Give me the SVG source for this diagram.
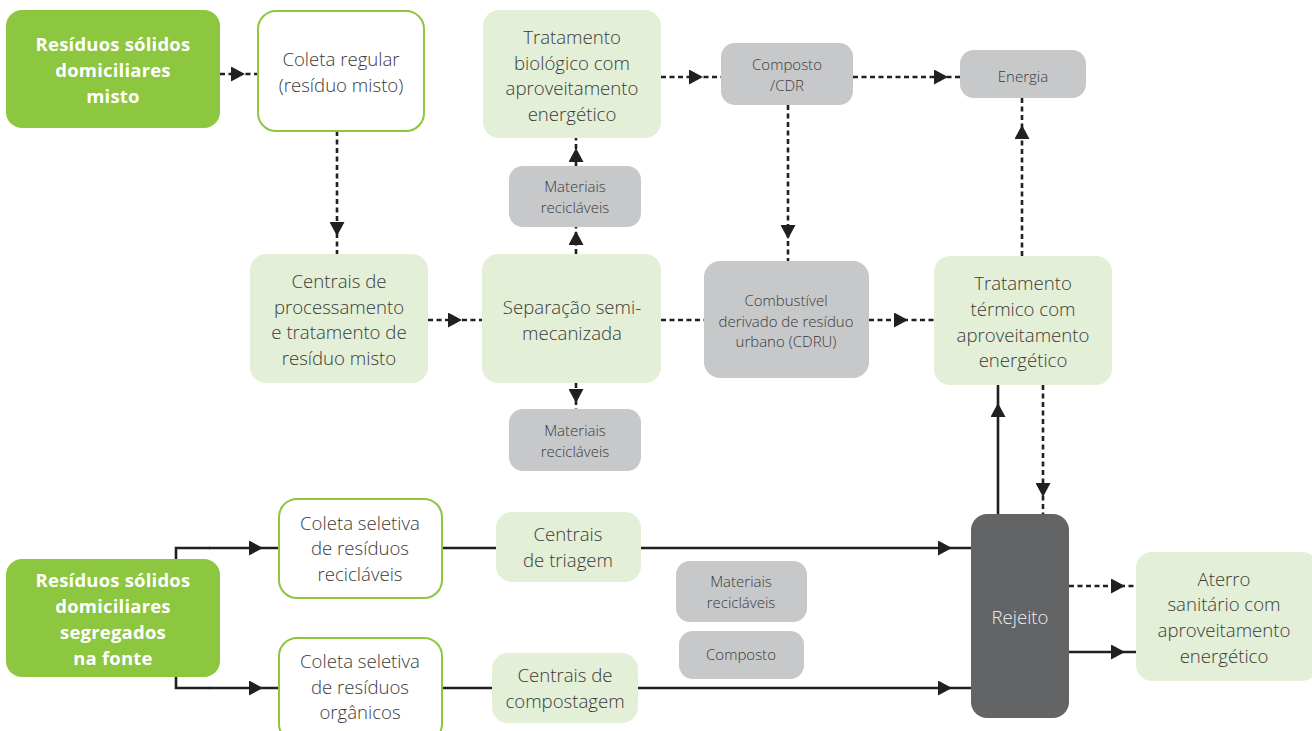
<svg xmlns="http://www.w3.org/2000/svg" width="1312" height="731" viewBox="0 0 1312 731">
<style>
.dk{fill:#8dc63f}
.wh{fill:#ffffff;stroke:#8dc63f;stroke-width:2}
.lg{fill:#e3efd6}
.gr{fill:#c7c8ca}
.dg{fill:#636466}
.tb{font-family:"Open Sans","Liberation Sans",sans-serif;font-weight:700;font-size:18.5px;letter-spacing:0.2px;fill:#ffffff;text-anchor:middle}
.t{font-family:"Open Sans","Liberation Sans",sans-serif;font-weight:300;font-size:18.6px;fill:#3a3a3a;text-anchor:middle}
.ts{font-family:"Open Sans","Liberation Sans",sans-serif;font-weight:300;font-size:15px;fill:#3a3a3a;text-anchor:middle}
.tw{font-family:"Open Sans","Liberation Sans",sans-serif;font-weight:300;font-size:18.6px;fill:#eeeeee;text-anchor:middle}
.d{fill:none;stroke:#231f20;stroke-width:2.6;stroke-dasharray:5 3.5;marker-mid:url(#ah)}
.s{fill:none;stroke:#231f20;stroke-width:2.6;marker-mid:url(#ah)}
.sn{fill:none;stroke:#231f20;stroke-width:2.6}
.dn{fill:none;stroke:#231f20;stroke-width:2.6;stroke-dasharray:5 3.5}
</style>
<defs>
<marker id="ah" markerUnits="userSpaceOnUse" viewBox="0 0 14 15" refX="14" refY="7.5" markerWidth="14" markerHeight="15" orient="auto">
<path d="M0,0 L14,7.5 L0,15 z" fill="#231f20"/>
</marker>
</defs>

<g id="connectors">
<path class="d" d="M220,74 L245,74 L257,74"/>
<path class="d" d="M337,131 L337,236 L337,254"/>
<path class="d" d="M428,320 L462,320 L482,320"/>
<path class="d" d="M576,254 L576,231 L576,227"/>
<path class="d" d="M576,166 L576,148 L576,138"/>
<path class="d" d="M576,383 L576,403 L576,409"/>
<path class="d" d="M661,77 L703,77 L721,77"/>
<path class="d" d="M853,77 L948,77 L960,77"/>
<path class="d" d="M788,105 L788,239 L788,261"/>
<path class="dn" d="M661,320 L704,320"/>
<path class="d" d="M869,320 L908,320 L934,320"/>
<path class="d" d="M1022,256 L1022,125 L1022,98"/>
<path class="s" d="M998,514 L998,403 L998,385"/>
<path class="d" d="M1043,385 L1043,497 L1043,514"/>
<path class="sn" d="M176,559 L176,548 L210,548"/>
<path class="s" d="M209,548 L263,548 L279,548"/>
<path class="sn" d="M176,677 L176,688 L210,688"/>
<path class="s" d="M209,688 L263,688 L279,688"/>
<path class="sn" d="M442,548 L496,548"/>
<path class="s" d="M641,548 L952,548 L971,548"/>
<path class="sn" d="M442,688 L492,688"/>
<path class="s" d="M638,688 L952,688 L971,688"/>
<path class="d" d="M1069,586 L1125,586 L1136,586"/>
<path class="s" d="M1069,652 L1125,652 L1136,652"/>
</g>

<g id="rsd-misto">
<rect class="dk" x="6" y="10" width="214" height="118" rx="16"/>
<text class="tb"><tspan x="113" y="51">Resíduos sólidos</tspan><tspan x="113" y="77">domiciliares</tspan><tspan x="113" y="103">misto</tspan></text>
</g>

<g id="coleta-regular">
<rect class="wh" x="258" y="11" width="166" height="120" rx="18"/>
<text class="t"><tspan x="341" y="66">Coleta regular</tspan><tspan x="341" y="92">(resíduo misto)</tspan></text>
</g>

<g id="centrais-processamento">
<rect class="lg" x="250" y="254" width="178" height="129" rx="16"/>
<text class="t"><tspan x="339" y="288">Centrais de</tspan><tspan x="339" y="314">processamento</tspan><tspan x="339" y="339">e tratamento de</tspan><tspan x="339" y="365">resíduo misto</tspan></text>
</g>

<g id="separacao">
<rect class="lg" x="482" y="254" width="179" height="129" rx="16"/>
<text class="t"><tspan x="572" y="314">Separação semi-</tspan><tspan x="572" y="340">mecanizada</tspan></text>
</g>

<g id="tratamento-biologico">
<rect class="lg" x="483" y="10" width="178" height="128" rx="16"/>
<text class="t"><tspan x="572" y="44">Tratamento</tspan><tspan x="572" y="70">biológico com</tspan><tspan x="572" y="95">aproveitamento</tspan><tspan x="572" y="121">energético</tspan></text>
</g>

<g id="materiais-1">
<rect class="gr" x="509" y="166" width="132" height="61" rx="14"/>
<text class="ts"><tspan x="575" y="192">Materiais</tspan><tspan x="575" y="213">recicláveis</tspan></text>
</g>

<g id="materiais-2">
<rect class="gr" x="509" y="409" width="132" height="62" rx="14"/>
<text class="ts"><tspan x="575" y="436">Materiais</tspan><tspan x="575" y="457">recicláveis</tspan></text>
</g>

<g id="composto-cdr">
<rect class="gr" x="721" y="43" width="132" height="62" rx="14"/>
<text class="ts"><tspan x="787" y="70">Composto</tspan><tspan x="787" y="91">/CDR</tspan></text>
</g>

<g id="energia">
<rect class="gr" x="960" y="50" width="126" height="48" rx="14"/>
<text class="ts"><tspan x="1023" y="82">Energia</tspan></text>
</g>

<g id="cdru">
<rect class="gr" x="704" y="261" width="165" height="117" rx="16"/>
<text class="ts"><tspan x="786" y="306">Combustível</tspan><tspan x="786" y="327">derivado de resíduo</tspan><tspan x="786" y="347">urbano (CDRU)</tspan></text>
</g>

<g id="tratamento-termico">
<rect class="lg" x="934" y="256" width="178" height="129" rx="16"/>
<text class="t"><tspan x="1023" y="290">Tratamento</tspan><tspan x="1023" y="316">térmico com</tspan><tspan x="1023" y="342">aproveitamento</tspan><tspan x="1023" y="367">energético</tspan></text>
</g>

<g id="rsd-segregados">
<rect class="dk" x="6" y="559" width="214" height="118" rx="16"/>
<text class="tb"><tspan x="113" y="587">Resíduos sólidos</tspan><tspan x="113" y="613">domiciliares</tspan><tspan x="113" y="639">segregados</tspan><tspan x="113" y="665">na fonte</tspan></text>
</g>

<g id="coleta-reciclaveis">
<rect class="wh" x="279" y="499" width="163" height="99" rx="18"/>
<text class="t"><tspan x="360" y="530">Coleta seletiva</tspan><tspan x="360" y="555">de resíduos</tspan><tspan x="360" y="581">recicláveis</tspan></text>
</g>

<g id="coleta-organicos">
<rect class="wh" x="279" y="638" width="163" height="104" rx="18"/>
<text class="t"><tspan x="360" y="668">Coleta seletiva</tspan><tspan x="360" y="694">de resíduos</tspan><tspan x="360" y="719">orgânicos</tspan></text>
</g>

<g id="centrais-triagem">
<rect class="lg" x="496" y="512" width="145" height="70" rx="16"/>
<text class="t"><tspan x="568" y="541">Centrais</tspan><tspan x="568" y="567">de triagem</tspan></text>
</g>

<g id="centrais-compostagem">
<rect class="lg" x="492" y="653" width="146" height="70" rx="16"/>
<text class="t"><tspan x="565" y="682">Centrais de</tspan><tspan x="565" y="708">compostagem</tspan></text>
</g>

<g id="materiais-3">
<rect class="gr" x="676" y="561" width="131" height="61" rx="14"/>
<text class="ts"><tspan x="741" y="587">Materiais</tspan><tspan x="741" y="608">recicláveis</tspan></text>
</g>

<g id="composto">
<rect class="gr" x="679" y="631" width="125" height="48" rx="14"/>
<text class="ts"><tspan x="741" y="660">Composto</tspan></text>
</g>

<g id="rejeito">
<rect class="dg" x="971" y="514" width="98" height="204" rx="16"/>
<text class="tw"><tspan x="1020" y="624">Rejeito</tspan></text>
</g>

<g id="aterro">
<rect class="lg" x="1136" y="552" width="182" height="129" rx="16"/>
<text class="t"><tspan x="1224" y="586">Aterro</tspan><tspan x="1224" y="611">sanitário com</tspan><tspan x="1224" y="637">aproveitamento</tspan><tspan x="1224" y="663">energético</tspan></text>
</g>
</svg>
